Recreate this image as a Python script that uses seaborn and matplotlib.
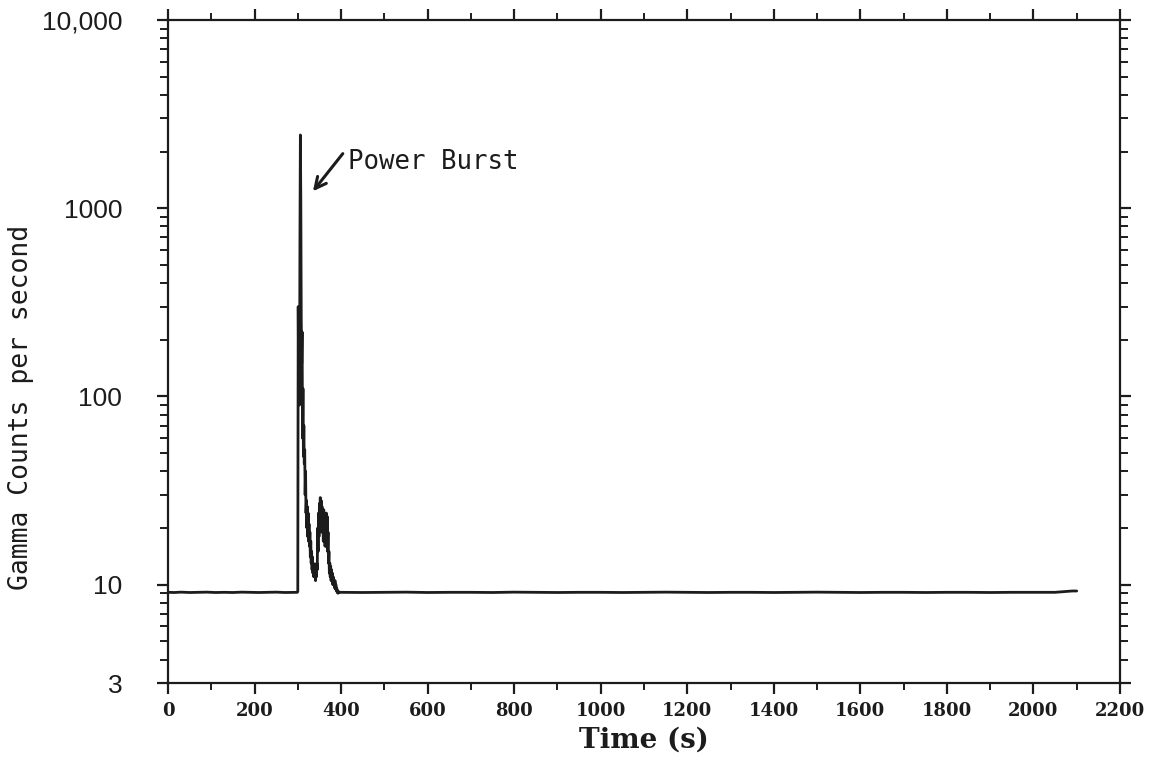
import numpy as np
import pandas as pd
import matplotlib
matplotlib.use("Agg")
import matplotlib.pyplot as plt
from matplotlib.ticker import FixedLocator, FixedFormatter, MultipleLocator
import seaborn as sns

# Background level before the burst (s, counts/s)
pre_time = [0, 15, 30, 50, 70, 90, 110, 130, 150, 170, 190, 210, 230, 250, 270, 290, 299]
pre_counts = [9.1, 9.08, 9.12, 9.08, 9.1, 9.12, 9.08, 9.1, 9.08, 9.12, 9.1, 9.08, 9.1, 9.12, 9.08, 9.1, 9.1]

# Power burst and delayed tail, 1 s resolution
burst_time = list(range(300, 395))
burst_counts = [
    9.2, 300, 120, 210, 90, 700, 2450, 1100, 260, 150,
    220, 60, 110, 48, 70, 44, 52, 30, 40, 24,
    28, 20, 26, 18, 24, 17, 21, 16, 19, 14,
    17, 13, 15, 12, 14, 11.5, 13, 11, 12.5, 11,
    12, 10.5, 11.5, 11, 13, 12, 20, 15, 24, 18,
    27, 20, 29, 21, 28, 19, 26, 20, 24, 17,
    25, 18, 22, 16, 22, 16, 24, 17, 23, 15,
    19, 13, 15, 11.5, 13, 11, 12.5, 10.5, 12, 10.5,
    11.5, 10, 11, 10, 10.5, 9.6, 10.5, 9.5, 10, 9.3,
    9.6, 9.1, 9.3, 9.0, 9.2,
]

# Background level after the burst
post_time = [396, 450, 500, 550, 600, 650, 700, 750, 800, 850, 900, 950, 1000,
             1050, 1100, 1150, 1200, 1250, 1300, 1350, 1400, 1450, 1500, 1550,
             1600, 1650, 1700, 1750, 1800, 1850, 1900, 1950, 2000, 2050, 2090, 2100]
post_counts = [9.1, 9.08, 9.1, 9.12, 9.08, 9.1, 9.1, 9.08, 9.12, 9.1, 9.08, 9.1, 9.1,
               9.08, 9.1, 9.12, 9.1, 9.08, 9.1, 9.1, 9.08, 9.1, 9.12, 9.1,
               9.08, 9.1, 9.1, 9.08, 9.1, 9.1, 9.08, 9.1, 9.1, 9.1, 9.25, 9.25]

y_ticks = [3, 10, 100, 1000, 10000]
y_tick_labels = ["3", "10", "100", "1000", "10,000"]
x_ticks = list(range(0, 2201, 200))
x_tick_labels = [str(t) for t in x_ticks]

df = pd.DataFrame({
    "time": pre_time + burst_time + post_time,
    "counts": pre_counts + burst_counts + post_counts,
})

sns.set_style("white")
ink = "#1c1c1c"

fig = plt.figure(figsize=(11.52, 7.64), dpi=100)
ax = fig.add_axes([0.1458, 0.1060, 0.8264, 0.8678])

sns.lineplot(data=df, x="time", y="counts", ax=ax, color=ink,
             linewidth=2.0, estimator=None, sort=True)

ax.set_yscale("log")
ax.set_xlim(0, 2200)
ax.set_ylim(3, 10000)

for side in ["left", "right", "top", "bottom"]:
    ax.spines[side].set_visible(True)
    ax.spines[side].set_color(ink)
    ax.spines[side].set_linewidth(1.6)

# Log axis: labelled decades plus the usual 2..9 minors
ax.yaxis.set_major_locator(FixedLocator(y_ticks))
ax.yaxis.set_major_formatter(FixedFormatter(y_tick_labels))
minor_y = [m * 10 ** d for d in range(0, 4) for m in range(2, 10)]
minor_y = [v for v in minor_y if 3 < v < 10000 and v != 10]
ax.yaxis.set_minor_locator(FixedLocator(minor_y))
ax.yaxis.set_minor_formatter(FixedFormatter([""] * len(minor_y)))

ax.xaxis.set_major_locator(FixedLocator(x_ticks))
ax.xaxis.set_major_formatter(FixedFormatter(x_tick_labels))
ax.xaxis.set_minor_locator(MultipleLocator(100))

ax.tick_params(axis="both", which="both", direction="out", color=ink,
               top=True, right=True, bottom=True, left=True)
ax.tick_params(axis="y", which="major", length=8, width=1.6, pad=25,
               labelsize=19, labelcolor=ink)
ax.tick_params(axis="y", which="minor", length=6, width=1.4)
ax.tick_params(axis="x", which="major", length=8, width=1.6, pad=6,
               labelsize=13, labelcolor=ink)
ax.tick_params(axis="x", which="minor", length=5, width=1.4)

for lbl in ax.get_yticklabels():
    lbl.set_fontfamily("Liberation Sans")
for lbl in ax.get_xticklabels():
    lbl.set_fontfamily("DejaVu Serif")
    lbl.set_fontweight("bold")

ax.set_xlabel("Time (s)", fontsize=20, fontfamily="DejaVu Serif",
              fontweight="bold", color=ink)
ax.xaxis.set_label_coords(0.5, -0.086)
ax.xaxis.label.set_va("center")

ax.set_ylabel("Gamma Counts per second", fontsize=19,
              fontfamily="DejaVu Sans Mono", color=ink)
ax.yaxis.set_label_coords(-0.154, 0.416)
ax.yaxis.label.set_va("center")

# Label and its pointer
ax.text(416, 1625, "Power Burst", fontsize=18.5, fontfamily="DejaVu Sans Mono",
        color=ink, ha="left", va="baseline")
ax.annotate("", xy=(335, 1230), xytext=(404, 1950),
            arrowprops=dict(arrowstyle="->", color=ink, lw=2.2,
                            shrinkA=0, shrinkB=0, mutation_scale=20))

fig.savefig("out.png", dpi=100, facecolor="white")
